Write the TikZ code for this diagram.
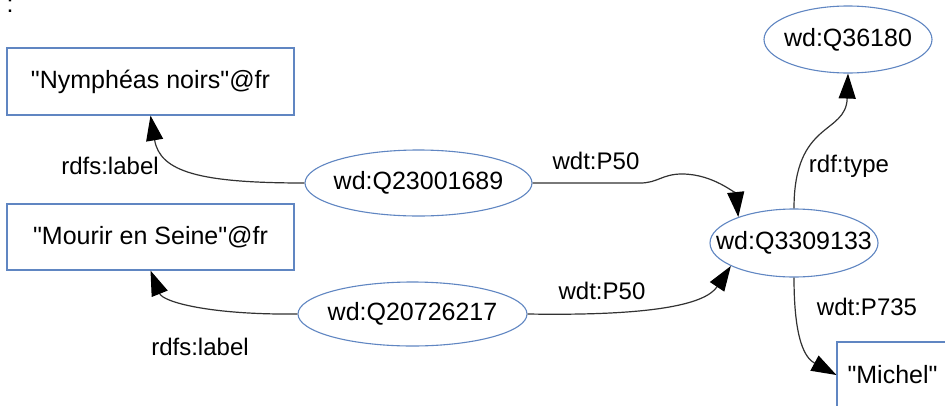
\documentclass[tikz,border=0pt]{standalone}
\usepackage{fontspec}
\setmainfont{Liberation Sans}
\usetikzlibrary{shapes.geometric,arrows.meta}
\definecolor{nodeblue}{RGB}{96,134,194}
\definecolor{edgegray}{RGB}{50,50,50}
\newcommand{\dq}{\textquotedbl}
\newcommand{\zw}[1]{\makebox[0pt]{#1}}
\tikzset{
  lit/.style={draw=nodeblue,line width=1.1pt,rectangle,inner sep=0pt,
    font=\fontsize{25}{30}\selectfont},
  res/.style={draw=nodeblue,line width=1.1pt,ellipse,inner sep=0pt,
    font=\fontsize{25}{30}\selectfont},
  lbl/.style={inner sep=0pt,font=\fontsize{24}{30}\selectfont},
  edge/.style={draw=edgegray,line width=1.2pt,
    -{Triangle[length=25pt,width=17pt,black]}}
}
\begin{document}
\begin{tikzpicture}[x=1pt,y=-1pt]
\useasboundingbox (0,0) rectangle (945,405);
\clip (0,0) rectangle (945,405);
\fill[white] (0,0) rectangle (945,405);
% stray cut-off colon
\node[anchor=base,inner sep=0pt,font=\fontsize{25}{30}\selectfont] (colon) at (10,12) {:};
% literal boxes
\node[lit,minimum width=287pt,minimum height=67pt] (n1) at (150.5,81.5) {\dq Nymphéas noirs\dq @fr};
\node[lit,minimum width=287pt,minimum height=66pt] (n2) at (150.5,237) {\dq Mourir en Seine\dq @fr};
\node[lit,minimum width=124pt,minimum height=90pt] (michel) at (899,387) {};
\node[inner sep=0pt,font=\fontsize{25}{30}\selectfont] (michelt) at (892.5,375) {\dq Michel\dq};
% resources
\node[res,minimum width=227pt,minimum height=66pt] (q1) at (418.5,183) {\zw{wd:Q23001689}};
\node[res,minimum width=229pt,minimum height=64pt] (q2) at (412.5,314) {\zw{wd:Q20726217}};
\node[res,minimum width=168pt,minimum height=68pt] (q3) at (794,243) {\zw{wd:Q3309133}};
\node[res,minimum width=168pt,minimum height=67pt] (q4) at (848,39.5) {\zw{wd:Q36180}};
% edges
\draw[edge] (q1.west) .. controls (200,183) and (160,172) .. (n1.south);
\draw[edge] (q2.west) .. controls (210,315) and (163,302) .. (n2.south);
\draw[edge] (q1.east) -- (640,183) .. controls (658,183) and (662,174) .. (682,174)
  .. controls (714,174) and (736,195) .. (q3.155);
\draw[edge] (q2.east) .. controls (650,316) and (705,305) .. (q3.200);
\draw[edge] (q3.north) .. controls (794,120) and (846,135) .. (q4.south);
\draw[edge] (q3.south) .. controls (794,340) and (805,358) .. (michelt.west -| michel.west);
% labels
\node[lbl] (l1) at (110,166) {rdfs:label};
\node[lbl] (l2) at (200,347) {rdfs:label};
\node[lbl] (l3) at (596,161) {wdt:P50};
\node[lbl] (l4) at (602,291) {wdt:P50};
\node[lbl] (l5) at (849,166) {rdf:type};
\node[lbl] (l6) at (867,307) {wdt:P735};
\end{tikzpicture}
\end{document}
